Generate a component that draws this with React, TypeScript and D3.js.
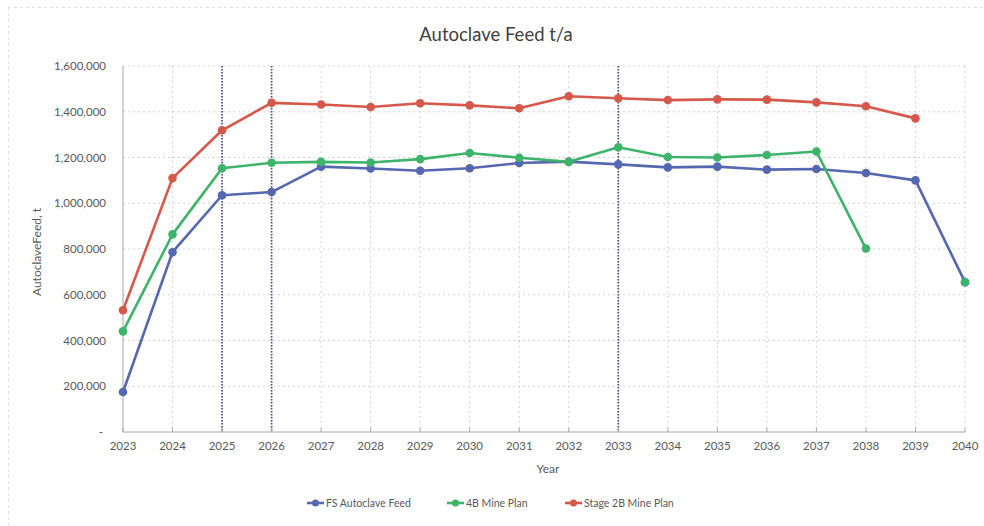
import React from "react";
import * as d3 from "d3";

// Years on the category axis
const years: number[] = [
  2023, 2024, 2025, 2026, 2027, 2028, 2029, 2030, 2031,
  2032, 2033, 2034, 2035, 2036, 2037, 2038, 2039, 2040,
];

// Autoclave feed, tonnes per year
const fsAutoclaveFeed: (number | null)[] = [
  175000, 786000, 1035000, 1049000, 1160000, 1152000, 1142000, 1153000, 1176000,
  1182000, 1170000, 1157000, 1160000, 1147000, 1150000, 1132000, 1100000, 655000,
];
const mine4BPlan: (number | null)[] = [
  440000, 864000, 1153000, 1177000, 1181000, 1178000, 1193000, 1220000, 1199000,
  1181000, 1245000, 1202000, 1200000, 1211000, 1226000, 802000, null, 655000,
];
const stage2BPlan: (number | null)[] = [
  532000, 1110000, 1319000, 1439000, 1432000, 1421000, 1437000, 1428000, 1415000,
  1468000, 1459000, 1451000, 1454000, 1453000, 1441000, 1424000, 1371000, null,
];

const yTicks: number[] = [0, 200000, 400000, 600000, 800000, 1000000, 1200000, 1400000, 1600000];
const markerYears: number[] = [2025, 2026, 2033];

const seriesNames: string[] = ["FS Autoclave Feed", "4B Mine Plan", "Stage 2B Mine Plan"];
const seriesColors: string[] = ["#5467b0", "#3db46a", "#d5584a"];
const seriesValues = [fsAutoclaveFeed, mine4BPlan, stage2BPlan];

const W = 984;
const H = 526;
const plot = { left: 123, right: 965, top: 66, bottom: 432 };
const FONT = "Lato, 'Open Sans', sans-serif";
const TEXT = "#595959";

export default function App() {
  const x = d3.scaleLinear().domain([2023, 2040]).range([plot.left, plot.right]);
  const y = d3.scaleLinear().domain([0, 1600000]).range([plot.bottom, plot.top]);
  const fmt = d3.format(",");

  const line = d3
    .line<[number, number | null]>()
    .defined((d) => d[1] != null)
    .x((d) => x(d[0]))
    .y((d) => y(d[1] as number));

  const legendX = [307, 447, 565];
  const legendY = 503;

  return (
    <svg
      width={W}
      height={H}
      style={{ position: "absolute", left: 0, top: 0, background: "#fff" }}
      fontFamily={FONT}
    >
      {/* faint chart-area frame */}
      <line x1={8} x2={W} y1={7.5} y2={7.5} stroke="#e2e2e2" strokeDasharray="3,3" />
      <line x1={8.5} x2={8.5} y1={7} y2={H} stroke="#e2e2e2" strokeDasharray="3,3" />

      {/* title */}
      <text x={496} y={41} textAnchor="middle" fontSize={18.5} fill="#404040">
        Autoclave Feed t/a
      </text>

      {/* horizontal gridlines */}
      {yTicks
        .filter((t) => t > 0)
        .map((t) => (
          <line
            key={"h" + t}
            x1={plot.left}
            x2={plot.right}
            y1={y(t)}
            y2={y(t)}
            stroke="#d4d4d4"
            strokeDasharray="2,3"
          />
        ))}
      {/* vertical gridlines */}
      {years.slice(1).map((yr) => (
        <line
          key={"v" + yr}
          x1={x(yr)}
          x2={x(yr)}
          y1={plot.top}
          y2={plot.bottom}
          stroke="#d4d4d4"
          strokeDasharray="2,3"
        />
      ))}

      {/* reference year markers */}
      {markerYears.map((yr) => (
        <line
          key={"m" + yr}
          x1={x(yr)}
          x2={x(yr)}
          y1={plot.top}
          y2={plot.bottom}
          stroke="#4b4b8c"
          strokeWidth={1.7}
          strokeDasharray="1.5,1.5"
        />
      ))}

      {/* axes */}
      <line x1={plot.left} x2={plot.left} y1={plot.top} y2={plot.bottom} stroke="#a6a6a6" />
      <line x1={plot.left} x2={plot.right} y1={plot.bottom} y2={plot.bottom} stroke="#a6a6a6" />
      {years.map((yr) => (
        <line
          key={"t" + yr}
          x1={x(yr)}
          x2={x(yr)}
          y1={plot.bottom}
          y2={plot.bottom - 4}
          stroke="#a6a6a6"
        />
      ))}

      {/* y tick labels */}
      {yTicks.map((t) => (
        <text
          key={"yl" + t}
          x={t === 0 ? 103 : 106}
          y={y(t) + 4}
          textAnchor="end"
          fontSize={11.5}
          fill={TEXT}
        >
          {t === 0 ? "-" : fmt(t)}
        </text>
      ))}

      {/* x tick labels */}
      {years.map((yr) => (
        <text
          key={"xl" + yr}
          x={x(yr)}
          y={450}
          textAnchor="middle"
          fontSize={11.5}
          fill={TEXT}
        >
          {yr}
        </text>
      ))}

      {/* axis titles */}
      <text x={548} y={473} textAnchor="middle" fontSize={12} fill={TEXT}>
        Year
      </text>
      <text
        transform={`translate(41,${(plot.top + plot.bottom) / 2 + 3}) rotate(-90)`}
        textAnchor="middle"
        fontSize={12}
        fill={TEXT}
      >
        AutoclaveFeed, t
      </text>

      {/* series */}
      {seriesValues.map((vals, i) => {
        const pts = years.map((yr, j) => [yr, vals[j]] as [number, number | null]);
        return (
          <g key={"s" + i}>
            <path
              d={line(pts) || ""}
              fill="none"
              stroke={seriesColors[i]}
              strokeWidth={2.6}
              strokeLinejoin="round"
            />
            {pts
              .filter((p) => p[1] != null)
              .map((p) => (
                <circle
                  key={"c" + p[0]}
                  cx={x(p[0])}
                  cy={y(p[1] as number)}
                  r={4.3}
                  fill={seriesColors[i]}
                />
              ))}
          </g>
        );
      })}

      {/* legend */}
      {seriesNames.map((name, i) => (
        <g key={"lg" + i} transform={`translate(${legendX[i]},${legendY})`}>
          <line x1={0} x2={17} y1={0} y2={0} stroke={seriesColors[i]} strokeWidth={2.6} />
          <circle cx={8.5} cy={0} r={3.5} fill={seriesColors[i]} />
          <text x={19} y={4} fontSize={10.5} fill={TEXT}>
            {name}
          </text>
        </g>
      ))}
    </svg>
  );
}
